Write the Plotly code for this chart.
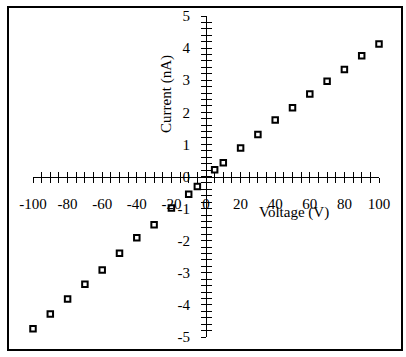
import plotly.graph_objects as go

voltage = [-100, -90, -80, -70, -60, -50, -40, -30, -20, -10, -5,
           5, 10, 20, 30, 40, 50, 60, 70, 80, 90, 100]
current = [-4.74, -4.28, -3.82, -3.36, -2.91, -2.39, -1.91, -1.50, -0.98, -0.55, -0.31,
           0.21, 0.43, 0.89, 1.31, 1.76, 2.14, 2.57, 2.97, 3.33, 3.76, 4.13]

x_tick_vals = [-100, -80, -60, -40, -20, 0, 20, 40, 60, 80, 100]
x_tick_text = ["-100", "-80", "-60", "-40", "-20", "0", "20", "40", "60", "80", "100"]
y_tick_vals = [-5, -4, -3, -2, -1, 0, 1, 2, 3, 4, 5]
y_tick_text = ["-5", "-4", "-3", "-2", "-1", "0", "1", "2", "3", "4", "5"]

x_title = "Voltage (V)"
y_title = "Current (nA)"

FONT = dict(family="Liberation Serif, Times New Roman, serif", size=15, color="black")

fig = go.Figure()
fig.add_trace(go.Scatter(
    x=voltage, y=current, mode="markers",
    marker=dict(symbol="square-open", size=5.5, color="black", line=dict(width=2, color="black")),
    cliponaxis=False, showlegend=False,
))
fig.add_trace(go.Scatter(x=[], y=[], xaxis="x2", yaxis="y2", showlegend=False))

common_x = dict(range=[-100, 100], anchor="free", position=0.5, showline=True,
                linecolor="black", linewidth=1, showgrid=False, zeroline=False, automargin=False,
                tickvals=x_tick_vals, ticklen=5, tickcolor="black", tickwidth=1)
common_y = dict(range=[-5, 5], anchor="free", position=0.5, showline=True,
                linecolor="black", linewidth=1, showgrid=False, zeroline=False, automargin=False,
                tickvals=y_tick_vals, ticklen=5, tickcolor="black", tickwidth=1)

fig.update_layout(
    width=406, height=357,
    margin=dict(l=33, r=27, t=16, b=20, pad=0, autoexpand=False),
    paper_bgcolor="white", plot_bgcolor="white",
    font=FONT,
    xaxis=dict(**common_x, ticktext=x_tick_text, ticks="outside",
               ticklabelstandoff=8, tickfont=FONT,
               minor=dict(dtick=5, tick0=0, ticks="outside", ticklen=5, tickcolor="black", showgrid=False)),
    xaxis2=dict(**common_x, overlaying="x", ticks="inside", showticklabels=False,
                minor=dict(dtick=5, tick0=0, ticks="inside", ticklen=5, tickcolor="black", showgrid=False)),
    yaxis=dict(**common_y, ticktext=y_tick_text, ticks="outside",
               ticklabelstandoff=8, tickfont=FONT,
               minor=dict(dtick=0.2, tick0=0, ticks="outside", ticklen=5, tickcolor="black", showgrid=False)),
    yaxis2=dict(**common_y, overlaying="y", ticks="inside", showticklabels=False,
                minor=dict(dtick=0.2, tick0=0, ticks="inside", ticklen=5, tickcolor="black", showgrid=False)),
    annotations=[
        dict(text=x_title, x=51, y=-1.12, xref="x", yref="y", showarrow=False, font=FONT),
        dict(text=y_title, x=-23, y=2.58, xref="x", yref="y", showarrow=False, font=FONT, textangle=-90),
    ],
    shapes=[dict(type="rect", xref="paper", yref="paper",
                 x0=(8 - 33) / 346, x1=(402 - 33) / 346,
                 y0=(337 - 350) / 321, y1=(337 - 7) / 321,
                 line=dict(color="black", width=2), layer="below")],
)

fig.write_html("out.html", config={"displayModeBar": False},
               post_script="document.body.style.margin='0';")
